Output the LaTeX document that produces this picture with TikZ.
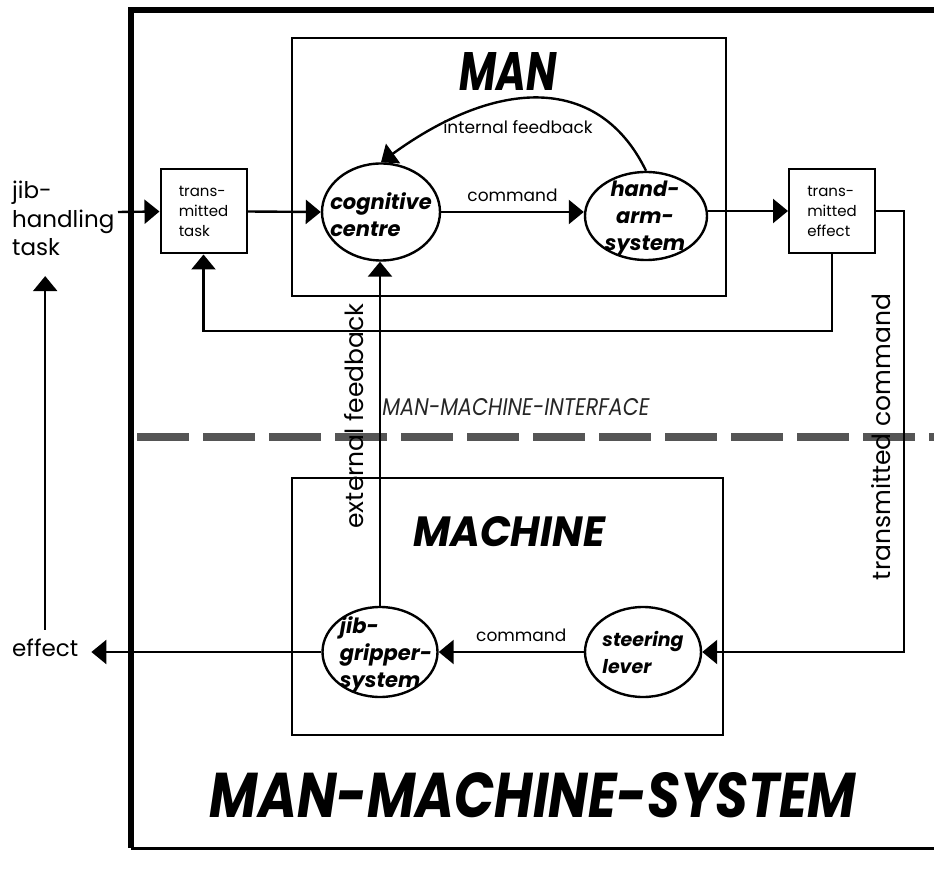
\documentclass[tikz,border=0pt]{standalone}
\usepackage{fontspec}
\setmainfont{Poppins}
\usepackage{tikz}
\usetikzlibrary{shapes,arrows.meta,positioning,calc}
\definecolor{dashgrey}{RGB}{85,85,85}

\tikzset{
    flow/.style={line width=2.4pt,-{Triangle[length=15pt,width=24pt]}},
    oval/.style={draw,ellipse,line width=2.4pt,inner sep=0pt},
    ovaltext/.style={font=\fontsize{21}{27}\selectfont\bfseries\itshape,align=left,inner sep=0pt},
    smallbox/.style={draw,line width=2pt,minimum width=86pt,minimum height=84pt,
        align=left,inner sep=0pt,font=\fontsize{15}{20}\selectfont},
    sidetext/.style={font=\fontsize{23}{28.5}\selectfont,align=left,inner sep=0pt},
    tag/.style={font=\fontsize{17}{20}\selectfont,inner sep=0pt},
    vtag/.style={font=\fontsize{25}{30}\selectfont,inner sep=0pt,rotate=90}
}

\begin{document}
\begin{tikzpicture}[x=1pt,y=-1pt]
    \useasboundingbox (0,0) rectangle (934,882);
    \clip (0,0) rectangle (934,882);
    \fill[white] (0,0) rectangle (934,882);

    \draw[line width=5.5pt,line join=miter] (950,10) -| (131,848);
    \draw[line width=3pt] (131,848) -- (950,848);
    \draw[line width=2pt] (292,38) rectangle (726,296);
    \draw[line width=2pt] (292,478) rectangle (723,735);
    \draw[dashgrey,line width=8pt,dash pattern=on 52pt off 14pt] (137,437) -- (950,437);

    \node (mantitle) at (508,72) {\resizebox{97pt}{38pt}{\bfseries\itshape MAN}};
    \node (machtitle) at (509,532) {\resizebox{192pt}{30pt}{\bfseries\itshape MACHINE}};
    \node (systitle) at (533,795) {\resizebox{646pt}{45pt}{\bfseries\itshape MAN-MACHINE-SYSTEM}};
    \node[text=black!85] (mmi) at (516,407) {\resizebox{267pt}{17pt}{\itshape MAN-MACHINE-INTERFACE}};

    \node[sidetext,anchor=north west] (jht) at (12,181) {jib-\\handling\\task};
    \node[sidetext,anchor=west] (eff) at (12,648) {effect};
    \coordinate (in) at (118,212);

    \node[smallbox] (task) at (203.5,211.5) {trans-\\mitted\\task};
    \node[smallbox] (teff) at (832,211) {trans-\\mitted\\effect};

    \node[oval,minimum width=118pt,minimum height=97pt] (cog) at (381,212) {};
    \node[ovaltext] (cogtext) at (381,215) {cognitive\\centre};
    \node[oval,minimum width=122pt,minimum height=88pt] (hand) at (646,216) {};
    \node[ovaltext,align=center] (handtext) at (645,219) {hand-\\arm-\\system};
    \node[oval,minimum width=115pt,minimum height=90pt] (jib) at (380,652) {};
    \node[ovaltext] (jibtext) at (386,655) {jib-\\gripper-\\system};
    \node[oval,minimum width=116pt,minimum height=90pt] (steer) at (643,652) {};
    \node[ovaltext,font=\fontsize{19}{27}\selectfont\bfseries\itshape] (steertext) at (643,652) {steering\\lever};

    \draw[flow] (in) -- (task.west);
    \draw[flow] (task.east) -- (cog.west);
    \draw[flow] (cog.east) -- node[tag,above=9pt] (cmd1) {command} (cog.east -| hand.west);
    \draw[flow] (hand.north) .. controls (600,76) and (500,76) .. (cog.north);
    \node[tag] (intfb) at (518,127) {internal feedback};
    \draw[flow] (teff.west -| hand.east) -- (teff.west);
    \draw[flow] (teff.south) -- ++(0,77) -| (task.south);
    \draw[flow] (teff.east) -- ++(28,0) |- (steer.east);
    \draw[flow] (steer.west) -- node[tag,above=9pt,xshift=10pt] (cmd2) {command} (jib.east);
    \draw[flow] (jib.north) -- (jib.north |- cog.south);
    \draw[flow] (jib.west) -- ($(eff.east |- jib.west)+(13,0)$);
    \draw[flow] ($(eff.north)+(0,-9)$) -- ($(eff.north |- jht.south)+(0,20)$);

    \node[vtag] (extfb) at (354,416) {external feedback};
    \node[vtag] (trcmd) at (881,437) {transmitted command};
\end{tikzpicture}
\end{document}
